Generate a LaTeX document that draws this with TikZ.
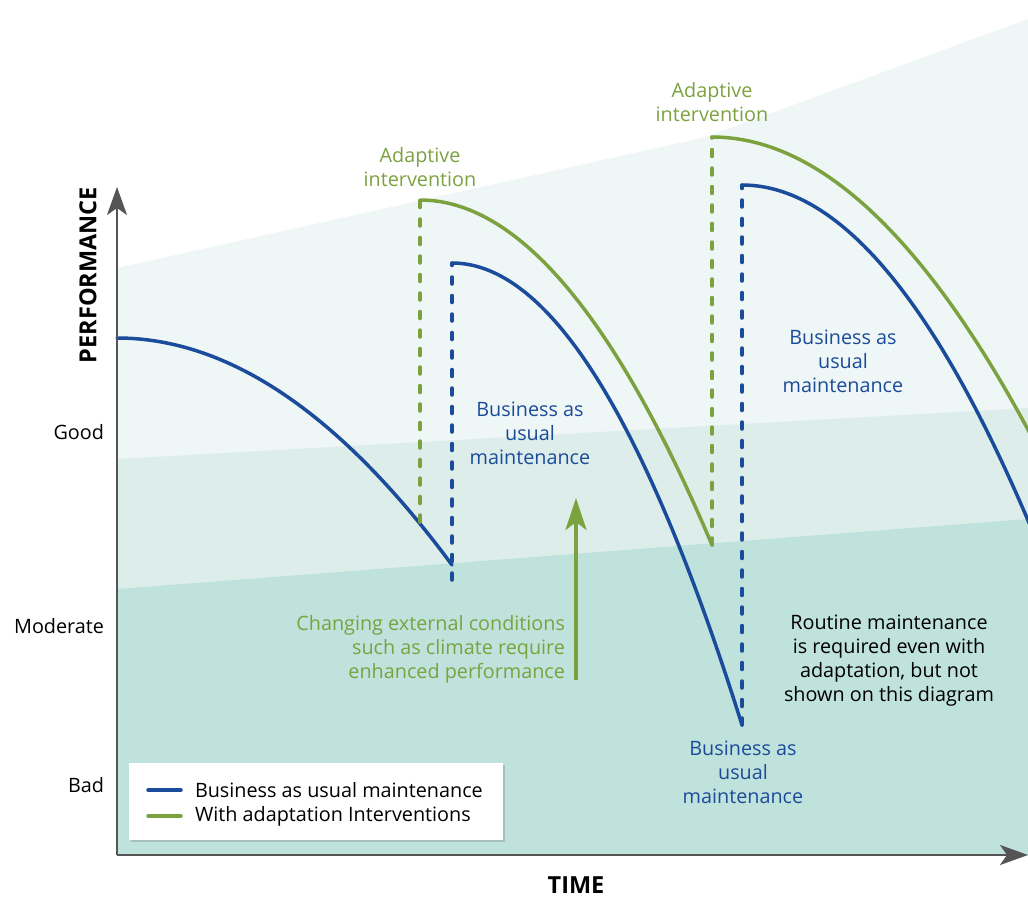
\documentclass[tikz,border=0pt]{standalone}
\usepackage{fontspec}
\setmainfont{Open Sans}
\usepackage{tikz}
\usetikzlibrary{arrows.meta,positioning,shadows}
\definecolor{baublue}{HTML}{1B4B9B}
\definecolor{adaptgreen}{HTML}{7BA23F}
\definecolor{axisgray}{HTML}{555555}
\definecolor{bandone}{HTML}{EFF6F6}
\definecolor{bandtwo}{HTML}{DCEDEA}
\definecolor{bandthree}{HTML}{C0E2DC}
\tikzset{
    bau color/.style={baublue},
    adapt color/.style={adaptgreen},
    bau line/.style={bau color,line width=3.5pt,line cap=round,line join=round},
    adapt line/.style={adapt color,line width=3.5pt,line cap=round,line join=round},
    drop line/.style={dash pattern=on 7pt off 11.5pt},
    axis arr/.style={-{Stealth[length=28pt,width=20pt,inset=7pt]},axisgray,line width=2.5pt},
    need arr/.style={-{Stealth[length=32pt,width=21pt,inset=8pt]},adapt color,line width=3.5pt},
    label text/.style={align=center,font=\fontsize{19.8}{24}\selectfont},
    level label/.style={anchor=east,font=\fontsize{19.8}{24}\selectfont},
    axis title/.style={font=\fontsize{23.5}{26}\selectfont\bfseries,text=black},
    legend box/.style={fill=white,draw=none,minimum width=374pt,minimum height=77pt,
        drop shadow={shadow xshift=1.5pt,shadow yshift=-2pt,opacity=0.35}},
}
\tikzstyle{every node}=[inner sep=0pt,outer sep=0pt]

\begin{document}
\begin{tikzpicture}[x=1pt,y=-1pt]
    \useasboundingbox (0,0) rectangle (1028,899);

    % performance bands
    \fill[bandone] (117,268) -- (706,137) -- (1028,19) -- (1028,855) -- (117,855) -- cycle;
    \fill[bandtwo] (117,459) -- (1028,408) -- (1028,855) -- (117,855) -- cycle;
    \fill[bandthree] (117,589) -- (1028,519) -- (1028,855) -- (117,855) -- cycle;

    \coordinate (origin) at (117,855);
    \coordinate (ytip) at (117,187);
    \coordinate (xtip) at (1028,855);

    \coordinate (b1start) at (117,338);
    \coordinate (b1end) at (452,565);
    \coordinate (b1drop) at (452,580);
    \coordinate (b2start) at (452,263);
    \coordinate (b2end) at (742,725);
    \coordinate (b3start) at (742,185);
    \coordinate (g1foot) at (420,522);
    \coordinate (g1start) at (420,200);
    \coordinate (g1end) at (712,545);
    \coordinate (g2start) at (712,137);

    \begin{scope}
        \clip (0,0) rectangle (1028,899);
        % business as usual
        \draw[bau line] (b1start) .. controls (228.7,338) and (340.3,413.7) .. (b1end);
        \draw[bau line,drop line] (b1drop) -- (b2start);
        \draw[bau line] (b2start) .. controls (548.7,263) and (645.3,417) .. (b2end);
        \draw[bau line,drop line] (b2end) -- (b3start);
        \draw[bau line] (b3start) .. controls (848,185) and (954,323.2) .. (1060,599.6);
        % with adaptation
        \draw[adapt line,drop line] (g1foot) -- (g1start);
        \draw[adapt line] (g1start) .. controls (517.3,200) and (614.7,315) .. (g1end);
        \draw[adapt line,drop line] (g1end) -- (g2start);
        \draw[adapt line] (g2start) .. controls (828,137) and (944,255.3) .. (1060,492);
    \end{scope}

    \draw[axis arr] (origin) -- (ytip);
    \draw[axis arr] (origin) -- (xtip);

    \node[axis title,rotate=90] (perf) at (88,275) {PERFORMANCE};
    \node[axis title,anchor=base] (time) at (576,893) {TIME};

    \node[level label] (good) at (104,432) {Good};
    \node[level label] (moderate) at (104,626) {Moderate};
    \node[level label] (bad) at (104,785) {Bad};

    \node[label text,adapt color] (adapt1) at (420,167) {Adaptive\\intervention};
    \node[label text,adapt color] (adapt2) at (712,102) {Adaptive\\intervention};
    \node[label text,bau color] (bau1) at (530,433) {Business as\\usual\\maintenance};
    \node[label text,bau color] (bau2) at (843,361) {Business as\\usual\\maintenance};
    \node[label text,bau color] (bau3) at (743,772) {Business as\\usual\\maintenance};

    \node[label text,align=right,adapt color,anchor=east] (change) at (565,649)
        {Changing external conditions\\such as climate require\\enhanced performance};
    \coordinate (needlow) at (576,680);
    \coordinate (needhigh) at (576,498);
    \draw[need arr] (needlow) -- (needhigh);

    \node[label text] (routine) at (889,661)
        {Routine maintenance\\is required even with\\adaptation, but not\\shown on this diagram};

    % legend
    \node[legend box] (legend) at (316,801.5) {};
    \node[label text,anchor=west] (legbau) at (195,790) {Business as usual maintenance};
    \node[label text,anchor=west] (legadapt) at (195,816) {With adaptation Interventions};
    \draw[bau line] ([xshift=-14pt]legbau.west) -- ++(-33,0);
    \draw[adapt line] ([xshift=-14pt]legadapt.west) -- ++(-33,0);
\end{tikzpicture}
\end{document}
